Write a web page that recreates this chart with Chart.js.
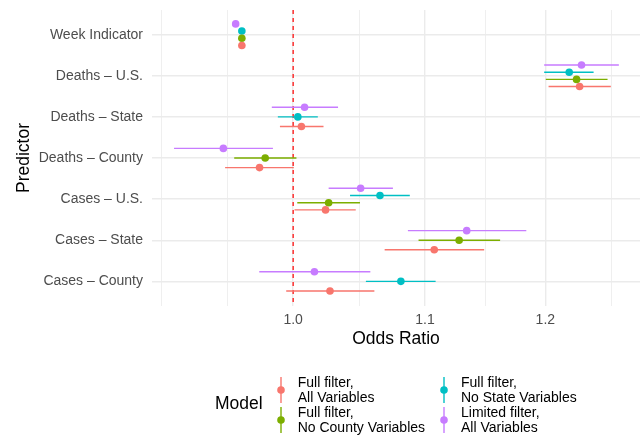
<!DOCTYPE html>
<html>
<head>
<meta charset="utf-8">
<script src="https://cdn.jsdelivr.net/npm/chart.js@4.4.1/dist/chart.umd.min.js"></script>
<style>
  body { margin: 0; background: #fff; }
  #wrap { position: relative; width: 644px; height: 437px; font-family: "Liberation Sans", Arial, sans-serif; }
  #chart { position: absolute; left: 0; top: 0; }
  .lg-title { position: absolute; left: 215px; top: 393px; font-size: 17.5px; line-height: 21px; color: #000; }
  .lg-text { position: absolute; font-size: 14px; line-height: 15px; color: #000; white-space: pre; }
  .lg-key { position: absolute; width: 12px; height: 26px; }
</style>
</head>
<body>
<div id="wrap">
  <canvas id="chart" width="644" height="437"></canvas>
  <div class="lg-title">Model</div>
  <div id="legend"></div>
</div>
<script>
const categories = ["Week Indicator", "Deaths – U.S.", "Deaths – State", "Deaths – County", "Cases – U.S.", "Cases – State", "Cases – County"];
const tickLabels = [1.0, 1.1, 1.2];

const modelNames = ["Full filter,\nAll Variables", "Full filter,\nNo County Variables", "Full filter,\nNo State Variables", "Limited filter,\nAll Variables"];
const modelColors = ["#F8766D", "#7CAE00", "#00BFC4", "#C77CFF"];

// odds ratios, lower and upper bounds per predictor
const allEst = [0.9636, 1.2301, 1.006, 0.976, 1.0237, 1.1074, 1.027];
const allLo = [0.962, 1.2028, 0.9905, 0.952, 1.001, 1.0684, 0.995];
const allHi = [0.965, 1.2582, 1.0222, 1.0005, 1.0463, 1.1481, 1.0605];

const noCountyEst = [0.9636, 1.2274, null, 0.980, 1.026, 1.1275, null];
const noCountyLo = [0.962, 1.2004, null, 0.9583, 1.003, 1.0949, null];
const noCountyHi = [0.965, 1.2552, null, 1.0024, 1.0495, 1.1614, null];

const noStateEst = [0.9636, 1.2209, 1.0034, null, 1.0648, null, 1.081];
const noStateLo = [0.962, 1.199, 0.989, null, 1.042, null, 1.054];
const noStateHi = [0.965, 1.2426, 1.018, null, 1.088, null, 1.1085];

const limitedEst = [0.9593, 1.2318, 1.0083, 0.9508, 1.050, 1.1337, 1.0155];
const limitedLo = [0.958, 1.199, 0.9847, 0.9175, 1.026, 1.0865, 0.9758];
const limitedHi = [0.961, 1.2655, 1.033, 0.9855, 1.0748, 1.1836, 1.0574];

const estimates = [allEst, noCountyEst, noStateEst, limitedEst];
const lowers = [allLo, noCountyLo, noStateLo, limitedLo];
const uppers = [allHi, noCountyHi, noStateHi, limitedHi];

// vertical dodge like ggplot position_dodge(0.7), top to bottom = last model first
function dodgeY(m, k) {
    let present = [];
    for (let i = estimates.length - 1; i >= 0; i--) {
        if (estimates[i][k] != null) present.push(i);
    }
    let j = present.indexOf(m);
    let n = present.length;
    return k - 0.35 + 0.7 * (j + 0.5) / n;
}

// log-scale gridlines: majors plus midpoints (in log space), extended one step each side
const step = tickLabels[1] / tickLabels[0];
let ext = [tickLabels[0] / step].concat(tickLabels, [tickLabels[tickLabels.length - 1] * step]);
let gridVals = [];
for (let i = 0; i < ext.length - 1; i++) {
    gridVals.push(ext[i]);
    gridVals.push(Math.sqrt(ext[i] * ext[i + 1]));
}
const xMin = 0.903, xMax = 1.285;
gridVals = gridVals.filter(v => v >= xMin && v <= xMax);

function isLabel(v) {
    return tickLabels.some(t => Math.abs(t - v) < 1e-9);
}

let datasets = [];
datasets.push({
    data: [{x: 1, y: -0.6}, {x: 1, y: 6.6}],
    showLine: true,
    borderColor: "#FF0000",
    borderWidth: 1.2,
    borderDash: [4, 4],
    pointRadius: 0,
    order: 10
});
for (let m = 0; m < modelNames.length; m++) {
    let line = [];
    let pts = [];
    for (let k = 0; k < categories.length; k++) {
        if (estimates[m][k] == null) continue;
        let y = dodgeY(m, k);
        line.push({x: lowers[m][k], y: y});
        line.push({x: uppers[m][k], y: y});
        line.push({x: null, y: null});
        pts.push({x: estimates[m][k], y: y});
    }
    datasets.push({
        data: line,
        showLine: true,
        spanGaps: false,
        borderColor: modelColors[m],
        borderWidth: 1.4,
        pointRadius: 0,
        order: 5
    });
    datasets.push({
        data: pts,
        backgroundColor: modelColors[m],
        borderWidth: 0,
        pointRadius: 3.8,
        order: 1
    });
}

const ctx = document.getElementById("chart");
var CHART = new Chart(ctx, {
    type: 'scatter',
    data: { datasets: datasets },
    options: {
        responsive: false,
        animation: false,
        layout: { padding: { left: 0, top: 10, right: 4, bottom: 87 } },
        plugins: { legend: { display: false }, tooltip: { enabled: false } },
        scales: {
            x: {
                type: 'logarithmic',
                bounds: 'data',
                min: xMin,
                max: xMax,
                afterBuildTicks: function (s) {
                    s.ticks = gridVals.map(v => ({ value: v }));
                },
                afterFit: function (s) {
                    s.height = 44;
                    s.paddingLeft = 0;
                    s.paddingRight = 0;
                },
                grid: {
                    color: "#EBEBEB",
                    lineWidth: c => (c.tick && isLabel(c.tick.value)) ? 1.4 : 0.8,
                    drawTicks: false
                },
                border: { display: false },
                ticks: {
                    autoSkip: false,
                    maxRotation: 0,
                    padding: 6,
                    color: "#4D4D4D",
                    font: { family: "Liberation Sans", size: 14 },
                    callback: function (v) {
                        let t = tickLabels.find(t => Math.abs(t - v) < 1e-9);
                        return t === undefined ? "" : t.toFixed(1);
                    }
                },
                title: {
                    display: true,
                    text: "Odds Ratio",
                    color: "#000",
                    font: { family: "Liberation Sans", size: 17.5 },
                    padding: { top: 0, bottom: 0 }
                }
            },
            y: {
                type: 'linear',
                min: -0.6,
                max: 6.6,
                reverse: true,
                afterBuildTicks: function (s) {
                    s.ticks = categories.map((c, i) => ({ value: i }));
                },
                afterFit: function (s) {
                    s.width = 152;
                    s.paddingTop = 0;
                    s.paddingBottom = 0;
                },
                grid: { color: "#EBEBEB", lineWidth: 1.4, drawTicks: false },
                border: { display: false },
                ticks: {
                    autoSkip: false,
                    padding: 9,
                    color: "#4D4D4D",
                    font: { family: "Liberation Sans", size: 14 },
                    callback: v => categories[v]
                },
                title: {
                    display: true,
                    text: "Predictor",
                    color: "#000",
                    font: { family: "Liberation Sans", size: 17.5 },
                    padding: { top: 13.5, bottom: 0 }
                }
            }
        }
    }
});

// legend, filled by column like ggplot
const legend = document.getElementById("legend");
const colX = [281, 444.3];
const rowY = [389.5, 419.5];
for (let m = 0; m < modelNames.length; m++) {
    let col = Math.floor(m / 2), row = m % 2;
    let key = document.createElement("div");
    key.className = "lg-key";
    key.style.left = (colX[col] - 6) + "px";
    key.style.top = (rowY[row] - 13) + "px";
    key.innerHTML = '<svg width="12" height="26"><line x1="6" y1="0" x2="6" y2="26" stroke="' + modelColors[m] +
        '" stroke-width="1.4"/><circle cx="6" cy="13" r="3.8" fill="' + modelColors[m] + '"/></svg>';
    legend.appendChild(key);
    let txt = document.createElement("div");
    txt.className = "lg-text";
    txt.style.left = (colX[col] + 16.7) + "px";
    txt.style.top = (rowY[row] - 14.5) + "px";
    txt.textContent = modelNames[m];
    legend.appendChild(txt);
}
</script>
</body>
</html>
